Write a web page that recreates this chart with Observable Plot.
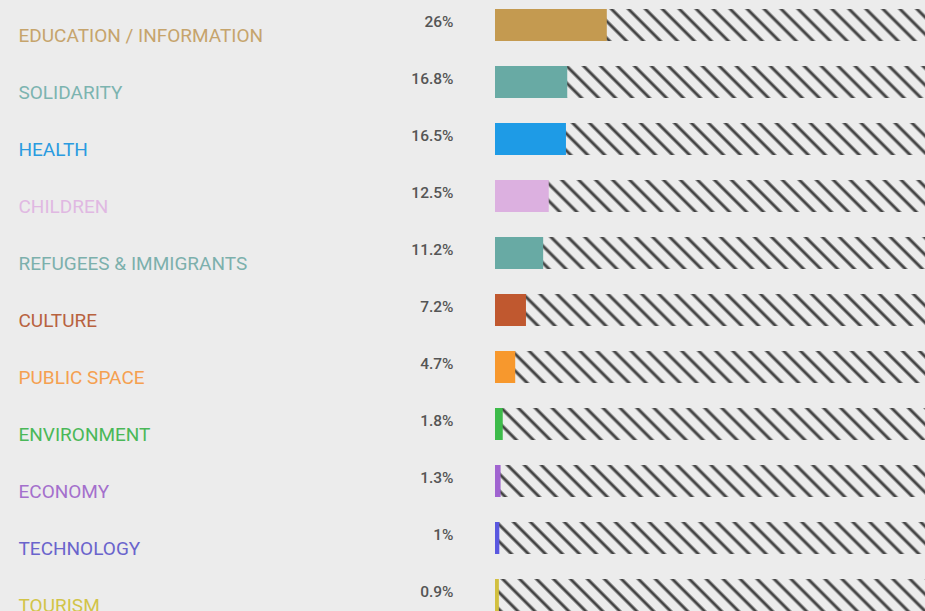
<!DOCTYPE html>
<html>
<head>
<meta charset="utf-8">
<script src="https://cdn.jsdelivr.net/npm/d3@7"></script>
<script src="https://cdn.jsdelivr.net/npm/@observablehq/plot@0.6"></script>
<style>
  html, body { margin: 0; padding: 0; background: #ececec; overflow: hidden; }
  #chart svg { display: block; }
</style>
</head>
<body>
<div id="chart"></div>
<script>
const categories = [
  "EDUCATION / INFORMATION", "SOLIDARITY", "HEALTH", "CHILDREN",
  "REFUGEES & IMMIGRANTS", "CULTURE", "PUBLIC SPACE", "ENVIRONMENT",
  "ECONOMY", "TECHNOLOGY", "TOURISM"
];
const values = [26, 16.8, 16.5, 12.5, 11.2, 7.2, 4.7, 1.8, 1.3, 1, 0.9];
const valueLabels = ["26%", "16.8%", "16.5%", "12.5%", "11.2%", "7.2%", "4.7%", "1.8%", "1.3%", "1%", "0.9%"];
const barColors = ["#c49a50", "#68aaa4", "#1e9be6", "#dcb0e0", "#68aaa4", "#c0582f", "#f7982d", "#3dbb4a", "#a064d0", "#5a58e0", "#d2c040"];
const labelColors = ["#c6a46c", "#7cb4b0", "#2a9be0", "#e0b8e2", "#7cb0ac", "#b8623f", "#f5a050", "#4ab858", "#a470cc", "#6a64cc", "#d2c448"];
const TOTAL = 100;

const data = categories.map((c, i) => ({
  category: c, value: values[i], label: valueLabels[i],
  bar: barColors[i], labelColor: labelColors[i]
}));

const plot = Plot.plot({
  width: 925,
  height: 611,
  marginLeft: 495,
  marginRight: 0,
  marginTop: 9,
  marginBottom: 0,
  style: { background: "#ececec", overflow: "visible" },
  x: { domain: [0, TOTAL], axis: null },
  y: { domain: categories, axis: null, paddingInner: 25 / 57, paddingOuter: 0 },
  color: { type: "identity" },
  marks: [
    Plot.barX(data, { x1: 0, x2: () => TOTAL, y: "category", fill: "url(#hatch)" }),
    Plot.barX(data, { x1: 0, x2: "value", y: "category", fill: "bar" }),
    Plot.text(data, {
      y: "category", text: "category", frameAnchor: "left", dx: -477, dy: 10,
      textAnchor: "start", fill: "labelColor",
      fontFamily: "Roboto", fontSize: 19
    }),
    Plot.text(data, {
      y: "category", text: "label", frameAnchor: "left", dx: -42, dy: -3,
      textAnchor: "end", fill: "#555555",
      fontFamily: "Roboto", fontSize: 15.5, fontWeight: 500
    })
  ]
});

const ns = "http://www.w3.org/2000/svg";
const defs = document.createElementNS(ns, "defs");
defs.innerHTML = `<pattern id="hatch" patternUnits="userSpaceOnUse" width="12" height="12" patternTransform="rotate(-45)">
  <rect width="12" height="12" fill="#ececec"/>
  <line x1="6" y1="-1" x2="6" y2="13" stroke="#444444" stroke-width="3"/>
</pattern>`;
plot.insertBefore(defs, plot.firstChild);
document.getElementById("chart").appendChild(plot);
</script>
</body>
</html>
